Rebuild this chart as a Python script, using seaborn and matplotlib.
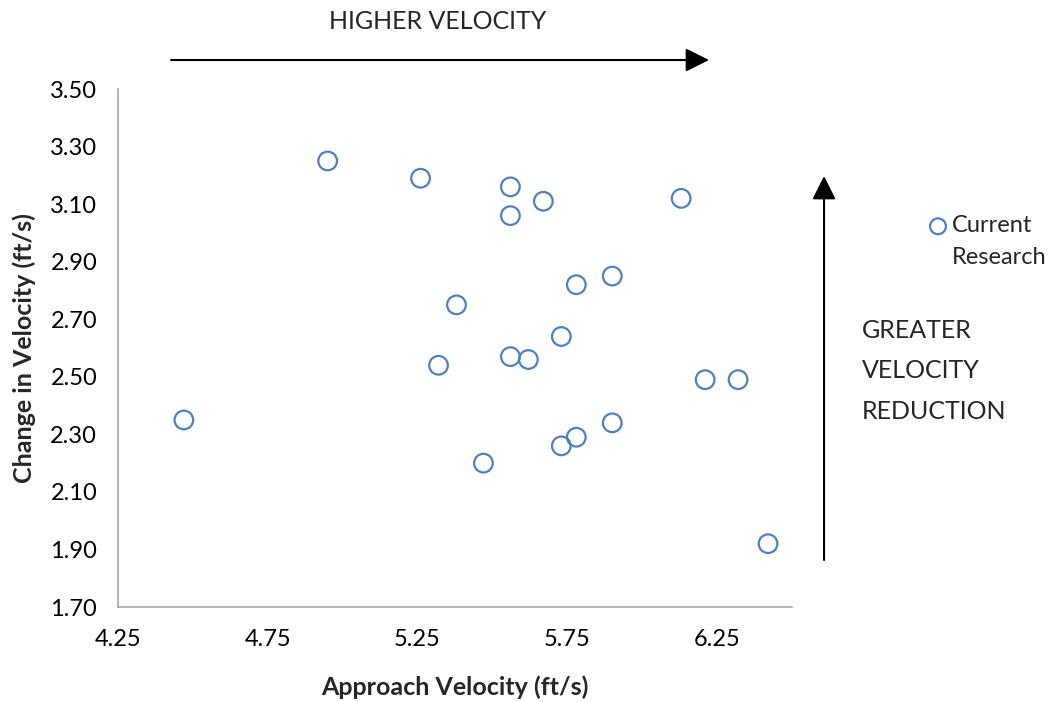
import numpy as np
import pandas as pd
import matplotlib
matplotlib.use('Agg')
import matplotlib.pyplot as plt
import seaborn as sns
from matplotlib.patches import FancyArrowPatch

# data
approach_velocity = [4.95, 5.26, 5.56, 5.67, 5.56, 6.13, 5.90, 5.78, 5.38, 5.73, 5.56,
                     5.62, 5.32, 6.21, 6.32, 4.47, 5.90, 5.78, 5.73, 5.47, 6.42]
velocity_change = [3.25, 3.19, 3.16, 3.11, 3.06, 3.12, 2.85, 2.82, 2.75, 2.64, 2.57,
                   2.56, 2.54, 2.49, 2.49, 2.35, 2.34, 2.29, 2.26, 2.20, 1.92]
x_ticks = [4.25, 4.75, 5.25, 5.75, 6.25]
y_ticks = [1.70, 1.90, 2.10, 2.30, 2.50, 2.70, 2.90, 3.10, 3.30, 3.50]

df = pd.DataFrame({'Approach Velocity (ft/s)': approach_velocity,
                   'Change in Velocity (ft/s)': velocity_change})

sns.set_theme(style='white')
plt.rcParams['font.family'] = ['Lato', 'DejaVu Sans']

blue = '#4F81BD'
axis_gray = '#A0A0A0'

fig = plt.figure(figsize=(10.57, 7.02), dpi=100)
ax = fig.add_axes([0.1116, 0.1353, 0.6377, 0.7379])

sns.scatterplot(data=df, x='Approach Velocity (ft/s)', y='Change in Velocity (ft/s)',
                ax=ax, s=180, facecolor='none', edgecolor=blue, linewidth=1.6,
                label='Current', clip_on=False)

ax.set_xlim(4.25, 6.50)
ax.set_ylim(1.70, 3.50)
ax.set_xticks(x_ticks)
ax.set_xticklabels([f'{v:.2f}' for v in x_ticks])
ax.set_yticks(y_ticks)
ax.set_yticklabels([f'{v:.2f}' for v in y_ticks])

for side in ['top', 'right']:
    ax.spines[side].set_visible(False)
for side in ['left', 'bottom']:
    ax.spines[side].set_color(axis_gray)
    ax.spines[side].set_linewidth(1.1)
ax.tick_params(axis='both', direction='out', length=5, width=1.1, color=axis_gray,
               labelsize=17, labelcolor='black', pad=10)
ax.tick_params(axis='x', pad=11)

ax.set_xlabel('Approach Velocity (ft/s)', fontsize=18, fontweight='bold', labelpad=18)
ax.set_ylabel('Change in Velocity (ft/s)', fontsize=18, fontweight='bold', labelpad=10)

# legend: marker next to the first line, second line as plain text
leg = ax.legend(loc='center left', bbox_to_anchor=(912 / 1057, 1 - 226 / 702),
                bbox_transform=fig.transFigure, frameon=False, fontsize=17,
                handletextpad=0.0, handlelength=1.2, markerscale=0.85, borderpad=0)
fig.text(952 / 1057, 1 - 258 / 702, 'Research', fontsize=17, ha='left', va='center')

# arrows and annotations
fig.add_artist(FancyArrowPatch((0.1618, 0.9145), (0.6708, 0.9145), transform=fig.transFigure,
                               arrowstyle='-|>,head_length=0.72,head_width=0.36',
                               mutation_scale=20, linewidth=1.5, color='black',
                               shrinkA=0, shrinkB=0))
fig.add_artist(FancyArrowPatch((0.7796, 0.2023), (0.7796, 0.7493), transform=fig.transFigure,
                               arrowstyle='-|>,head_length=0.72,head_width=0.36',
                               mutation_scale=20, linewidth=1.5, color='black',
                               shrinkA=0, shrinkB=0))
fig.text(0.4144, 0.9687, 'HIGHER VELOCITY', fontsize=18, ha='center', va='center')
for txt, ypix in zip(['GREATER', 'VELOCITY', 'REDUCTION'], [330, 371, 412]):
    fig.text(862 / 1057, 1 - ypix / 702, txt, fontsize=18, ha='left', va='center')

fig.savefig('out.png', dpi=100)
